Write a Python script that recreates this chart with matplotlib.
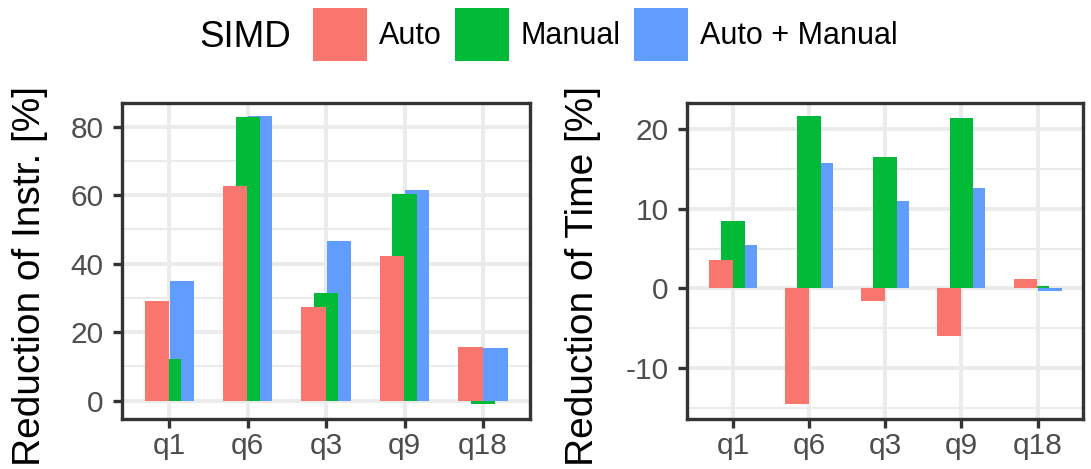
import numpy as np
import matplotlib.pyplot as plt
from matplotlib.patches import Patch

queries = ["q1", "q6", "q3", "q9", "q18"]
series = ["Auto", "Manual", "Auto + Manual"]
colors = ["#F8766D", "#00BA38", "#619CFF"]

instr_auto = [29.1, 62.7, 27.3, 42.2, 15.6]
instr_manual = [12.1, 82.7, 31.5, 60.3, -1.0]
instr_both = [35.0, 83.1, 46.5, 61.4, 15.5]

time_auto = [3.5, -14.55, -1.6, -6.05, 1.13]
time_manual = [8.43, 21.67, 16.5, 21.46, 0.33]
time_both = [5.4, 15.8, 11.0, 12.65, -0.3]

plt.rcParams["font.family"] = ["Liberation Sans", "DejaVu Sans"]
plt.rcParams["axes.unicode_minus"] = False

BORDER = "#333333"
GRID = "#EBEBEB"
TXT = "#4D4D4D"

fig = plt.figure(figsize=(10.91, 4.69), dpi=100)
fig.set_facecolor("white")

W, H = 1091, 469


def px_axes(l, t, r, b):
    return fig.add_axes([l / W, 1 - b / H, (r - l) / W, (b - t) / H])


def panel(ax, vals, ylim, yticks, yminor, ylabel):
    x = np.arange(1, len(queries) + 1)
    width, off = 0.31, 0.16
    # blue below, green, red on top (as in the original)
    for i in (2, 1, 0):
        ax.bar(x + (i - 1) * off, vals[i], width, color=colors[i],
               zorder=3 + (2 - i), linewidth=0)
    ax.set_xlim(0.4, len(queries) + 0.6)
    ax.set_ylim(*ylim)
    ax.set_xticks(x)
    ax.set_xticklabels(queries)
    ax.set_yticks(yticks)
    ax.set_yticks(yminor, minor=True)
    ax.grid(True, which="major", color=GRID, lw=2.8, zorder=0)
    ax.grid(True, which="minor", axis="y", color=GRID, lw=1.5, zorder=0)
    ax.set_axisbelow(True)
    for s in ax.spines.values():
        s.set_color(BORDER)
        s.set_linewidth(2.4)
    ax.tick_params(which="major", length=6.5, width=2.4, color=BORDER,
                   labelsize=21.5, labelcolor=TXT)
    ax.tick_params(axis="y", pad=7)
    ax.tick_params(axis="x", pad=3)
    ax.tick_params(which="minor", length=0)
    ax.set_ylabel(ylabel, fontsize=28, color="black")


ax1 = px_axes(122.3, 103.3, 530, 419)
panel(ax1, [instr_auto, instr_manual, instr_both], (-5.34, 86.8),
      [0, 20, 40, 60, 80], [10, 30, 50, 70], "Reduction of Instr. [%]")
ax1.yaxis.set_label_coords(48 / W, 1 - 276 / H, transform=fig.transFigure)

ax2 = px_axes(687.3, 103.3, 1083.3, 419)
panel(ax2, [time_auto, time_manual, time_both], (-16.44, 23.27),
      [-10, 0, 10, 20], [-15, -5, 5, 15], "Reduction of Time [%]")
ax2.yaxis.set_label_coords(601 / W, 1 - 276 / H, transform=fig.transFigure)

fig.text(199 / W, 1 - 47.3 / H, "SIMD", fontsize=26.5, va="baseline", ha="left")
handles = [Patch(facecolor=c, edgecolor="none") for c in colors]
fig.legend(handles, series, loc="center left",
           bbox_to_anchor=(312.7 / W, 1 - 34.5 / H), ncol=3, frameon=False,
           fontsize=22, handlelength=1.79, handleheight=2.34,
           handletextpad=0.38, columnspacing=0.42, borderpad=0,
           borderaxespad=0)

fig.savefig("out.png", dpi=100, facecolor="white")
